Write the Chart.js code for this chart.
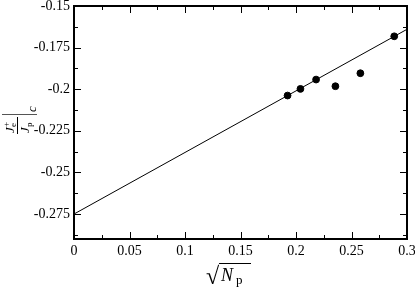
<!DOCTYPE html>
<html>
<head>
<meta charset="utf-8">
<script src="https://cdn.jsdelivr.net/npm/chart.js@4/dist/chart.umd.min.js"></script>
<style>
  body { margin: 0; background: #fff; }
</style>
</head>
<body>
<canvas id="fitChart" width="415" height="288"></canvas>
<script>
// measured points
var sqrtNp = [0.1924, 0.2040, 0.2181, 0.2355, 0.2580, 0.2885];
var ratioC = [-0.2038, -0.1998, -0.1942, -0.1982, -0.1904, -0.1682];

// straight fit line, end points
var fitX = [0, 0.3];
var fitY = [-0.275, -0.164];

var xTicks = [0, 0.05, 0.1, 0.15, 0.2, 0.25, 0.3];
var yTicks = [-0.275, -0.25, -0.225, -0.2, -0.175, -0.15];

var SerifFont = '"Liberation Serif", "Times New Roman", serif';

function FormatTick(v) {
    return String(+v.toFixed(4));
}

function ToPoints(xs, ys) {
    var list = [];
    for (var i = 0; i < xs.length; i++) {
        list.push({ x: xs[i], y: ys[i] });
    }
    return list;
}

// frame, inward ticks on all four sides, axis titles
var framePlugin = {
    id: "frame",
    afterDraw: function (chart) {
        var ctx = chart.ctx;
        var area = chart.chartArea;
        var xs = chart.scales.x;
        var ys = chart.scales.y;

        ctx.save();
        ctx.strokeStyle = "#000";
        ctx.lineWidth = 1;

        // x ticks (major every 0.05, minor between)
        for (var k = 0; k <= 12; k++) {
            var v = k * 0.025;
            var len = (k % 2 == 0) ? 7 : 4;
            var px = Math.round(xs.getPixelForValue(v)) + 0.5;
            ctx.beginPath();
            ctx.moveTo(px, area.bottom);
            ctx.lineTo(px, area.bottom - len);
            ctx.moveTo(px, area.top);
            ctx.lineTo(px, area.top + len);
            ctx.stroke();
        }
        // y ticks (major every 0.025, minor between)
        for (var j = 0; j <= 12; j++) {
            var yv = -0.15 - j * 0.0125;
            if (yv < ys.min - 1e-9) break;
            var len2 = (j % 2 == 0) ? 7 : 4;
            var py = Math.round(ys.getPixelForValue(yv)) + 0.5;
            ctx.beginPath();
            ctx.moveTo(area.left, py);
            ctx.lineTo(area.left + len2, py);
            ctx.moveTo(area.right, py);
            ctx.lineTo(area.right - len2, py);
            ctx.stroke();
        }

        ctx.lineWidth = 2;
        ctx.strokeRect(area.left, area.top, area.right - area.left, area.bottom - area.top);

        // x title: sqrt(N_p)
        ctx.fillStyle = "#000";
        ctx.textBaseline = "alphabetic";
        ctx.textAlign = "left";
        ctx.font = "24px " + SerifFont;
        ctx.fillText("\u221A", 206, 284);
        ctx.font = "italic 18px " + SerifFont;
        ctx.fillText("N", 221, 281);
        ctx.font = "13px " + SerifFont;
        ctx.fillText("p", 236, 284);
        ctx.lineWidth = 1;
        ctx.beginPath();
        ctx.moveTo(219, 263.5);
        ctx.lineTo(251, 263.5);
        ctx.stroke();

        // y title: (J_e^+ / J_p)|_c, rotated
        ctx.translate(17, 134);
        ctx.rotate(-Math.PI / 2);
        ctx.beginPath();
        ctx.moveTo(0, 0.5);
        ctx.lineTo(17, 0.5);
        ctx.stroke();
        ctx.font = "italic 13px " + SerifFont;
        ctx.fillText("J", 1, -3);
        ctx.fillText("J", 1, 12);
        ctx.font = "9px " + SerifFont;
        ctx.fillText("+", 7, -8);
        ctx.fillText("e", 7, -1);
        ctx.fillText("p", 7, 15);
        // evaluation bar
        ctx.strokeStyle = "#555";
        ctx.beginPath();
        ctx.moveTo(19.5, -15);
        ctx.lineTo(19.5, 20);
        ctx.stroke();
        ctx.font = "italic 13px " + SerifFont;
        ctx.fillText("c", 22, 19);
        ctx.restore();
    }
};

Chart.defaults.font.family = SerifFont;
Chart.defaults.font.size = 14;
Chart.defaults.color = "#000";

var ctx = document.getElementById("fitChart");

var fitChart = new Chart(ctx, {
    type: "scatter",
    data: {
        datasets: [
            {
                label: "fit",
                data: ToPoints(fitX, fitY),
                showLine: true,
                borderColor: "#000",
                borderWidth: 1,
                pointRadius: 0,
                fill: false
            },
            {
                label: "data",
                data: ToPoints(sqrtNp, ratioC),
                backgroundColor: "#000",
                borderColor: "#000",
                pointRadius: 3.4,
                showLine: false
            }
        ]
    },
    options: {
        responsive: false,
        animation: false,
        layout: { padding: { top: 6, right: 8, left: 0, bottom: 0 } },
        plugins: {
            legend: { display: false },
            tooltip: { enabled: false }
        },
        scales: {
            x: {
                type: "linear",
                min: 0,
                max: 0.3,
                grid: { display: false, drawTicks: false },
                border: { display: false },
                afterBuildTicks: function (scale) {
                    scale.ticks = xTicks.map(function (v) { return { value: v }; });
                },
                afterFit: function (scale) {
                    scale.height = 49;
                    scale.paddingLeft = 0;
                    scale.paddingRight = 0;
                },
                ticks: {
                    padding: 4,
                    maxRotation: 0,
                    font: { family: SerifFont, size: 14 },
                    callback: FormatTick
                }
            },
            y: {
                type: "linear",
                min: -0.29,
                max: -0.15,
                grid: { display: false, drawTicks: false },
                border: { display: false },
                afterBuildTicks: function (scale) {
                    scale.ticks = yTicks.map(function (v) { return { value: v }; });
                },
                afterFit: function (scale) {
                    scale.width = 74;
                    scale.paddingTop = 0;
                    scale.paddingBottom = 0;
                },
                ticks: {
                    padding: 4,
                    font: { family: SerifFont, size: 14 },
                    callback: FormatTick
                }
            }
        }
    },
    plugins: [framePlugin]
});
</script>
</body>
</html>
